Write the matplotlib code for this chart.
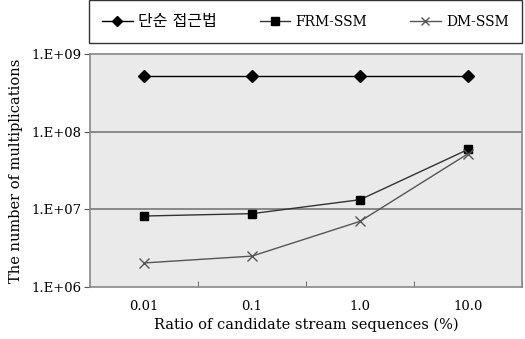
import matplotlib
matplotlib.use("Agg")
import matplotlib.pyplot as plt
from matplotlib.ticker import FixedLocator, NullLocator

plt.rcParams['font.family'] = ['DejaVu Serif', 'Noto Sans CJK KR']

categories = ["0.01", "0.1", "1.0", "10.0"]
naive = [5.2e8, 5.2e8, 5.2e8, 5.2e8]
frm_ssm = [8.2e6, 8.8e6, 1.33e7, 5.9e7]
dm_ssm = [2.04e6, 2.5e6, 7.0e6, 5.2e7]
series_names = ["단순 접근법", "FRM-SSM", "DM-SSM"]
ytick_vals = [1e6, 1e7, 1e8, 1e9]
ytick_labels = ["1.E+06", "1.E+07", "1.E+08", "1.E+09"]

W, H = 525, 339
fig = plt.figure(figsize=(W/100, H/100), dpi=100)
ax = fig.add_axes([90/W, (H-287)/H, (522-90)/W, (287-54)/H])
ax.set_facecolor("#EAEAEA")

x = list(range(len(categories)))
ax.plot(x, naive, color="black", lw=1.0, marker="D", ms=6, mfc="black", mec="black", label=series_names[0], zorder=3)
ax.plot(x, frm_ssm, color="#333333", lw=1.0, marker="s", ms=6, mfc="black", mec="black", label=series_names[1], zorder=3)
ax.plot(x, dm_ssm, color="#555555", lw=1.0, marker="x", ms=7, mew=1.0, mec="#555555", label=series_names[2], zorder=3)

ax.set_yscale("log")
ax.set_ylim(1e6, 1e9)
ax.set_xlim(-0.5, len(categories) - 0.5)
ax.yaxis.set_major_locator(FixedLocator(ytick_vals))
ax.set_yticklabels(ytick_labels)
ax.yaxis.set_minor_locator(NullLocator())
for v in [1e7, 1e8]:
    ax.axhline(v, color="#777777", lw=1.2, zorder=1)

ax.set_xticks(x)
ax.set_xticklabels(categories)
ax.set_xticks([i + 0.5 for i in x], minor=True)
ax.tick_params(axis="x", which="major", length=0, pad=9, labelsize=9.5)
ax.tick_params(axis="x", which="minor", direction="in", length=4, color="#555555")
ax.tick_params(axis="y", which="major", length=4, direction="out", color="#555555", labelsize=9.5, pad=2)

for s in ax.spines.values():
    s.set_color("#888888")
    s.set_linewidth(1.2)

ax.set_xlabel("Ratio of candidate stream sequences (%)", fontsize=10.5, labelpad=4)
ax.set_ylabel("The number of multiplications", fontsize=10.5, labelpad=6)

leg = fig.legend(loc="lower left", bbox_to_anchor=(89/W, (H-43)/H, (522-89)/W, 38/H),
                 mode="expand", ncol=3, frameon=True, fancybox=False,
                 edgecolor="black", fontsize=10, handlelength=2.2, handletextpad=0.4,
                 borderaxespad=0, borderpad=0.95, markerscale=0.85)
leg.get_frame().set_linewidth(1.0)
leg.get_texts()[0].set_fontsize(11.5)

fig.savefig("out.png", dpi=100)
